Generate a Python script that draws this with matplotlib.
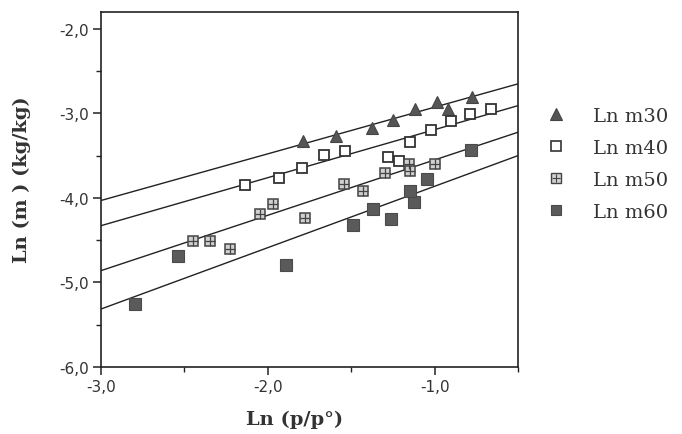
import matplotlib
matplotlib.use("Agg")
import matplotlib.pyplot as plt
from matplotlib.ticker import MultipleLocator, FuncFormatter
from matplotlib.lines import Line2D
import numpy as np

# data
x_m30 = [-1.786, -1.590, -1.376, -1.247, -1.119, -0.986, -0.918, -0.776]
y_m30 = [-3.322, -3.263, -3.175, -3.077, -2.947, -2.870, -2.947, -2.808]

x_m40 = [-2.136, -1.932, -1.797, -1.662, -1.536, -1.278, -1.212, -1.146, -1.023, -0.902, -0.786, -0.660]
y_m40 = [-3.846, -3.763, -3.645, -3.491, -3.444, -3.515, -3.562, -3.337, -3.201, -3.095, -3.002, -2.947]

x_m50 = [-2.450, -2.346, -2.226, -2.046, -1.970, -1.776, -1.542, -1.427, -1.296, -1.152, -1.146, -0.996]
y_m50 = [-4.505, -4.505, -4.604, -4.189, -4.071, -4.240, -3.834, -3.914, -3.704, -3.598, -3.677, -3.598]

x_m60 = [-2.796, -2.540, -1.890, -1.487, -1.370, -1.260, -1.122, -1.146, -1.046, -0.780]
y_m60 = [-5.254, -4.683, -4.793, -4.325, -4.130, -4.249, -4.051, -3.914, -3.775, -3.432]

# fitted lines as drawn in the figure: y = a + b*x
slopes = [0.552, 0.568, 0.655, 0.726]
intercepts = [-2.374, -2.624, -2.895, -3.136]

labels = ["Ln m30", "Ln m40", "Ln m50", "Ln m60"]

fig = plt.figure(figsize=(6.82, 4.35), dpi=100)
ax = fig.add_axes([101 / 682, 1 - 368 / 435, (518 - 101) / 682, (368 - 13) / 435])

xl = np.array([-3.0, -0.5])
for a, b in zip(intercepts, slopes):
    ax.plot(xl, a + b * xl, color="#222222", lw=1.0, zorder=1)

ax.plot(x_m30, y_m30, ls="none", marker="^", ms=8, mfc="#555555", mec="#444444", mew=0.8, zorder=3)
ax.plot(x_m40, y_m40, ls="none", marker="s", ms=7.5, mfc="white", mec="#333333", mew=1.3, zorder=3)
ax.plot(x_m50, y_m50, ls="none", marker="s", ms=7.5, mfc="#d0d0d0", mec="#444444", mew=1.1, zorder=3)
ax.plot(x_m50, y_m50, ls="none", marker="+", ms=7, mec="#444444", mew=0.9, zorder=4)
ax.plot(x_m60, y_m60, ls="none", marker="s", ms=8.5, mfc="#5a5a5a", mec="#4a4a4a", mew=0.8, zorder=3)

ax.set_xlim(-3.0, -0.5)
ax.set_ylim(-6.0, -1.8)
ax.xaxis.set_major_locator(MultipleLocator(1.0))
ax.xaxis.set_minor_locator(MultipleLocator(0.5))
ax.yaxis.set_major_locator(MultipleLocator(1.0))
ax.yaxis.set_minor_locator(MultipleLocator(0.5))
fmt = FuncFormatter(lambda v, p: ("%.1f" % v).replace(".", ","))
ax.xaxis.set_major_formatter(fmt)
ax.yaxis.set_major_formatter(fmt)
ax.tick_params(which="major", direction="out", length=6, width=1.1, labelsize=11,
               labelcolor="#333333", color="#222222", pad=3)
ax.tick_params(which="minor", direction="out", length=3.5, width=1.0, color="#222222")
for s in ax.spines.values():
    s.set_linewidth(1.2)
    s.set_color("#222222")

fig.text(22 / 682, 1 - 180 / 435, "Ln (m ) (kg/kg)", rotation=90, ha="center", va="center",
         family="DejaVu Serif", fontweight="bold", fontsize=14, color="#333333")
fig.text(295 / 682, 1 - 420 / 435, "Ln (p/p°)", ha="center", va="center",
         family="DejaVu Serif", fontweight="bold", fontsize=14, color="#333333")

h30 = Line2D([], [], ls="none", marker="^", ms=8, mfc="#555555", mec="#444444", mew=0.8)
h40 = Line2D([], [], ls="none", marker="s", ms=6.5, mfc="white", mec="#333333", mew=1.2)
h50a = Line2D([], [], ls="none", marker="s", ms=6.5, mfc="#d0d0d0", mec="#444444", mew=1.0)
h50b = Line2D([], [], ls="none", marker="+", ms=6, mec="#444444", mew=0.8)
h60 = Line2D([], [], ls="none", marker="s", ms=7.5, mfc="#5a5a5a", mec="#4a4a4a", mew=0.8)
leg = fig.legend([h30, h40, (h50a, h50b), h60], labels, loc="upper left",
                 bbox_to_anchor=(546 / 682, 1 - 108 / 435), frameon=False,
                 borderpad=0, borderaxespad=0, handlelength=1.0, handletextpad=1.4,
                 labelspacing=0.72, prop={"family": "DejaVu Serif", "size": 14})
for t in leg.get_texts():
    t.set_color("#333333")

fig.savefig("out.png", dpi=100)
